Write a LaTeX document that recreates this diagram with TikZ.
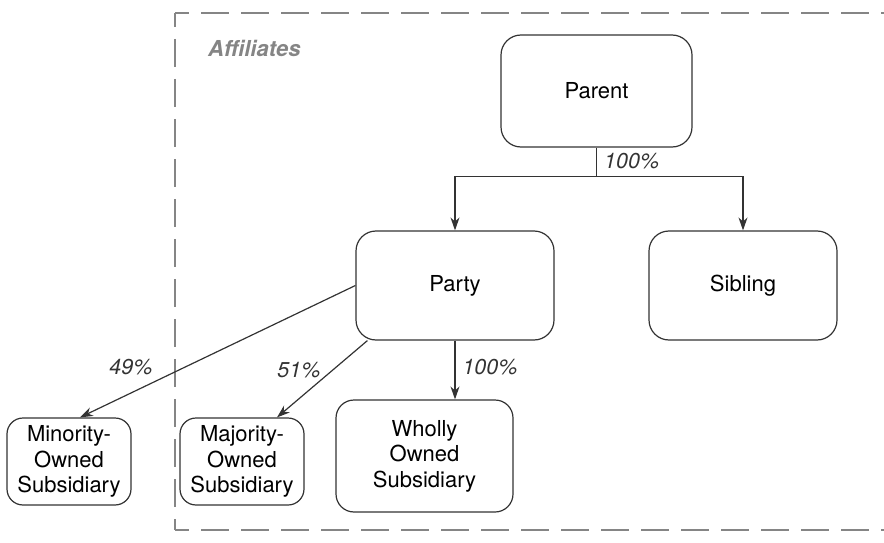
\documentclass[tikz,border=0pt]{standalone}
\usepackage{fontspec}
\setmainfont{TeX Gyre Heros}
\usetikzlibrary{arrows.meta,calc}
\definecolor{boxline}{HTML}{333333}
\definecolor{dashgray}{HTML}{858585}
\tikzset{
  entity/.style={draw=boxline, line width=1.2pt, rounded corners=#1, align=center,
    font=\fontsize{22}{25.5}\selectfont, inner sep=0pt},
  entity/.default=18pt,
  link/.style={draw=boxline, line width=1.2pt, -{Stealth[length=13pt,width=9pt]}},
  pct/.style={font=\fontsize{21.5}{24}\selectfont\itshape, text=boxline, inner sep=0pt},
  affbox/.style={draw=dashgray, line width=2.8pt, dash pattern=on 28pt off 12pt, dash phase=14pt}
}
\begin{document}
\begin{tikzpicture}[x=1pt,y=-1pt]
\useasboundingbox (0,0) rectangle (884,543);
% dashed affiliates region
\coordinate (tl) at (175,13);
\coordinate (bl) at (175,530);
\draw[affbox] (tl) -- (900,13);
\draw[affbox] (tl) -- (bl);
\draw[affbox] (bl) -- (900,530);
\node[font=\fontsize{22}{26}\selectfont\bfseries\itshape, text=dashgray, anchor=west, inner sep=0pt] (aff) at (208,48) {Affiliates};
% nodes
\node[entity=20pt, minimum width=191pt, minimum height=112pt] (parent) at (596.5,91) {Parent};
\node[entity=20pt, minimum width=198pt, minimum height=109pt] (party) at (455,285.5) {Party};
\node[entity=20pt, minimum width=188pt, minimum height=109pt] (sibling) at (743,285.5) {Sibling};
\node[entity=16pt, minimum width=124pt, minimum height=87pt] (minority) at (69,461.5) {Minority-\\Owned\\Subsidiary};
\node[entity=16pt, minimum width=124pt, minimum height=87pt] (majority) at (242,461.5) {Majority-\\Owned\\Subsidiary};
\node[entity=18pt, minimum width=177pt, minimum height=112pt] (wholly) at (424.5,456) {Wholly\\Owned\\Subsidiary};
% connectors
\coordinate (j) at ($(parent.south)+(0,29)$);
\draw[draw=boxline, line width=1.2pt] (parent.south) -- (j);
\draw[link] (j) -| (party.north);
\draw[link] (j) -| (sibling.north);
\node[pct, anchor=west] (p1) at (604,161) {100\%};
\draw[link] (party.west) -- ([xshift=11pt]minority.north);
\draw[link] ([xshift=12pt]party.south west) -- ([xshift=35pt]majority.north);
\draw[link] (party.south) -- (party.south |- wholly.north);
\node[pct] (p2) at (131,367) {49\%};
\node[pct] (p3) at (299,370) {51\%};
\node[pct] (p4) at (490,367) {100\%};
\end{tikzpicture}
\end{document}
